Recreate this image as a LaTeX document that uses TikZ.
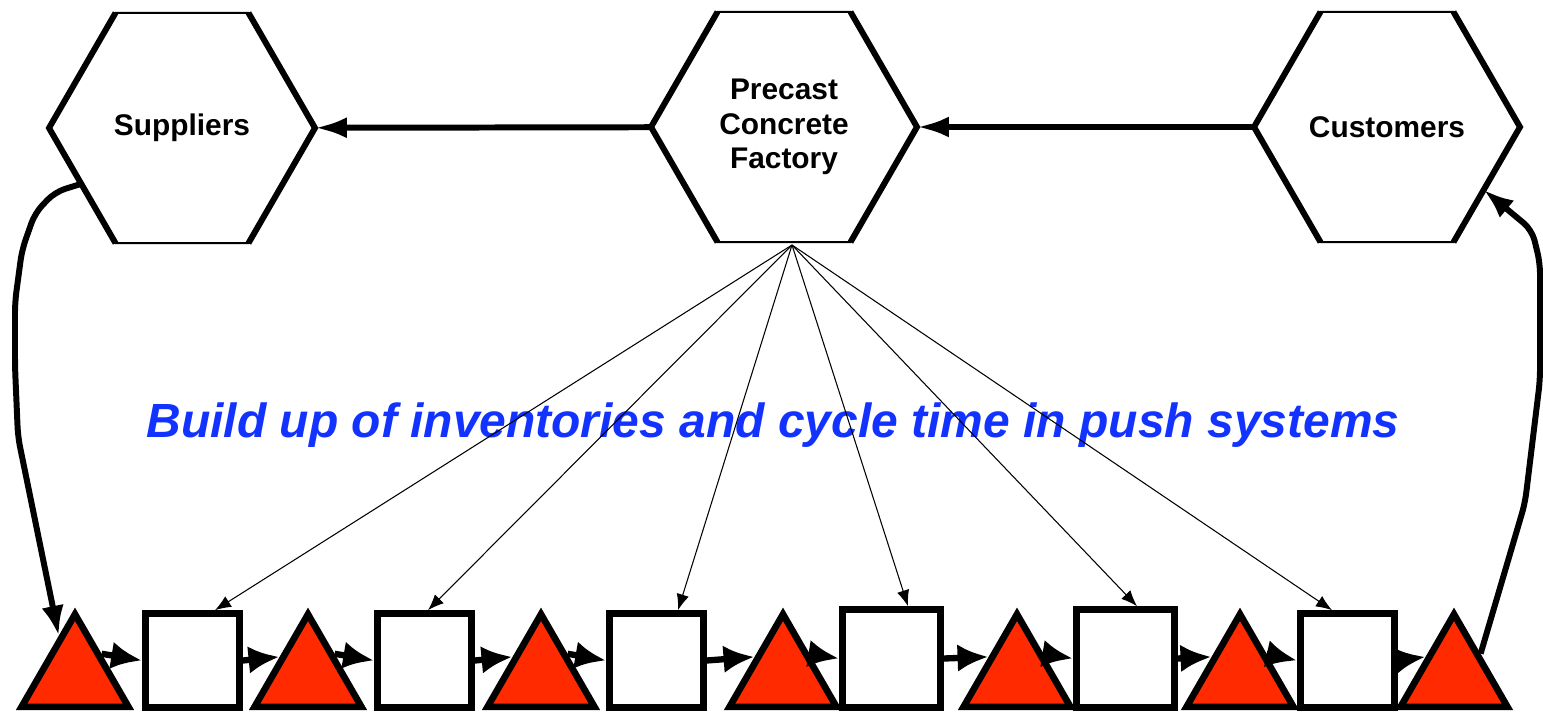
\documentclass[tikz,border=0pt]{standalone}
\usepackage{fontspec}
\setmainfont{Liberation Sans}
\usepackage{xcolor}
\usetikzlibrary{shapes.geometric}
\usetikzlibrary{arrows.meta}
\usetikzlibrary{calc}
\definecolor{stockred}{RGB}{255,42,0}
\definecolor{noteblue}{RGB}{18,50,255}

\begin{document}
\begin{tikzpicture}[x=0.02cm, y=-0.02cm,
    hexa/.style={regular polygon, regular polygon sides=6, minimum size=5.32cm, inner sep=0pt, outer sep=0pt, draw, line width=1.2pt, fill=white, align=center, font=\bfseries\fontsize{17}{19.5}\selectfont},
    stock/.style={regular polygon, regular polygon sides=3, minimum size=2.47cm, inner sep=0pt, draw, line width=3.8pt, fill=stockred},
    stage/.style={rectangle, minimum width=1.88cm, minimum height=1.88cm, inner sep=0pt, draw, line width=3.8pt, fill=white},
    order/.style={line width=3.4pt, -{Latex[length=0.64cm, width=0.42cm]}},
    flow/.style={line width=3.6pt, -{Latex[length=0.62cm, width=0.55cm]}},
    backflow/.style={line width=3.4pt, rounded corners=6pt, -{Latex[length=0.6cm, width=0.45cm]}},
    feed/.style={line width=0.6pt, -{Latex[length=0.32cm, width=0.25cm]}}]
    \useasboundingbox (0,0) rectangle (1543,711);
    % top row
    \node[hexa] (sup) at (182,128) {Suppliers};
    \node[hexa] (fac) at (784,127) {Precast\\Concrete\\Factory};
    \node[hexa] (cus) at (1387,127) {Customers};
    \draw[line width=3.4pt] (sup.120) -- (sup.180) -- (sup.240) (sup.60) -- (sup.0) -- (sup.300);
    \draw[line width=3.4pt] (fac.120) -- (fac.180) -- (fac.240) (fac.60) -- (fac.0) -- (fac.300);
    \draw[line width=3.4pt] (cus.120) -- (cus.180) -- (cus.240) (cus.60) -- (cus.0) -- (cus.300);
    \draw[order] (fac) -- (sup);
    \draw[order] (cus) -- (fac);
    \node[font=\bfseries\itshape\fontsize{27.3}{32}\selectfont, text=noteblue, anchor=base] (title) at (773,437) {Build up of inventories and cycle time in push systems};
    % bottom row
    \node[stock] (t1) at (75,676) {};
    \node[stage] (s1) at (192.5,660.5) {};
    \node[stock] (t2) at (308,676) {};
    \node[stage] (s2) at (424.5,660.5) {};
    \node[stock] (t3) at (541,676) {};
    \node[stage] (s3) at (656.5,660.5) {};
    \node[stock] (t4) at (783,676) {};
    \node[stage, minimum size=1.96cm] (s4) at (891.5,658.5) {};
    \node[stock] (t5) at (1017,676) {};
    \node[stage, minimum size=1.96cm] (s5) at (1125.5,658.5) {};
    \node[stock] (t6) at (1240,676) {};
    \node[stage] (s6) at (1347.5,660.5) {};
    \node[stock] (t7) at (1454,676) {};
    \draw[flow] ($(t1.corner 1)!0.45!(t1.corner 3)$) -- (s1.west);
    \draw[flow] (s1.east) -- ($(t2.corner 1)!0.48!(t2.corner 2)$);
    \draw[flow] ($(t2.corner 1)!0.45!(t2.corner 3)$) -- (s2.west);
    \draw[flow] (s2.east) -- ($(t3.corner 1)!0.48!(t3.corner 2)$);
    \draw[flow] ($(t3.corner 1)!0.45!(t3.corner 3)$) -- (s3.west);
    \draw[flow] (s3.east) -- ($(t4.corner 1)!0.48!(t4.corner 2)$);
    \draw[flow] ($(t4.corner 1)!0.45!(t4.corner 3)$) -- (s4.west);
    \draw[flow] (s4.east) -- ($(t5.corner 1)!0.48!(t5.corner 2)$);
    \draw[flow] ($(t5.corner 1)!0.45!(t5.corner 3)$) -- (s5.west);
    \draw[flow] (s5.east) -- ($(t6.corner 1)!0.48!(t6.corner 2)$);
    \draw[flow] ($(t6.corner 1)!0.45!(t6.corner 3)$) -- (s6.west);
    \draw[flow] (s6.east) -- ($(t7.corner 1)!0.48!(t7.corner 2)$);
    % loops back to the top row
    \draw[backflow] (sup.209) -- (55,192) -- (35,213) -- (22,250) -- (15,302) -- (15,367) -- (18,437) -- (t1.112);
    \draw[backflow] (t7.40) -- (1525,503) -- (1540,380) -- (1540,263) -- (1532,230) -- (cus.-33);
    % factory orders to each stage
    \coordinate (src) at (792,245);
    \draw[feed] (src) -- ($(s1.north)+(22.5,0)$);
    \draw[feed] (src) -- ($(s2.north)+(3.5,0)$);
    \draw[feed] (src) -- ($(s3.north)+(21.5,0)$);
    \draw[feed] (src) -- ($(s4.north)+(16.5,0)$);
    \draw[feed] (src) -- ($(s5.north)+(11.5,0)$);
    \draw[feed] (src) -- ($(s6.north)+(-15.5,0)$);
\end{tikzpicture}
\end{document}
